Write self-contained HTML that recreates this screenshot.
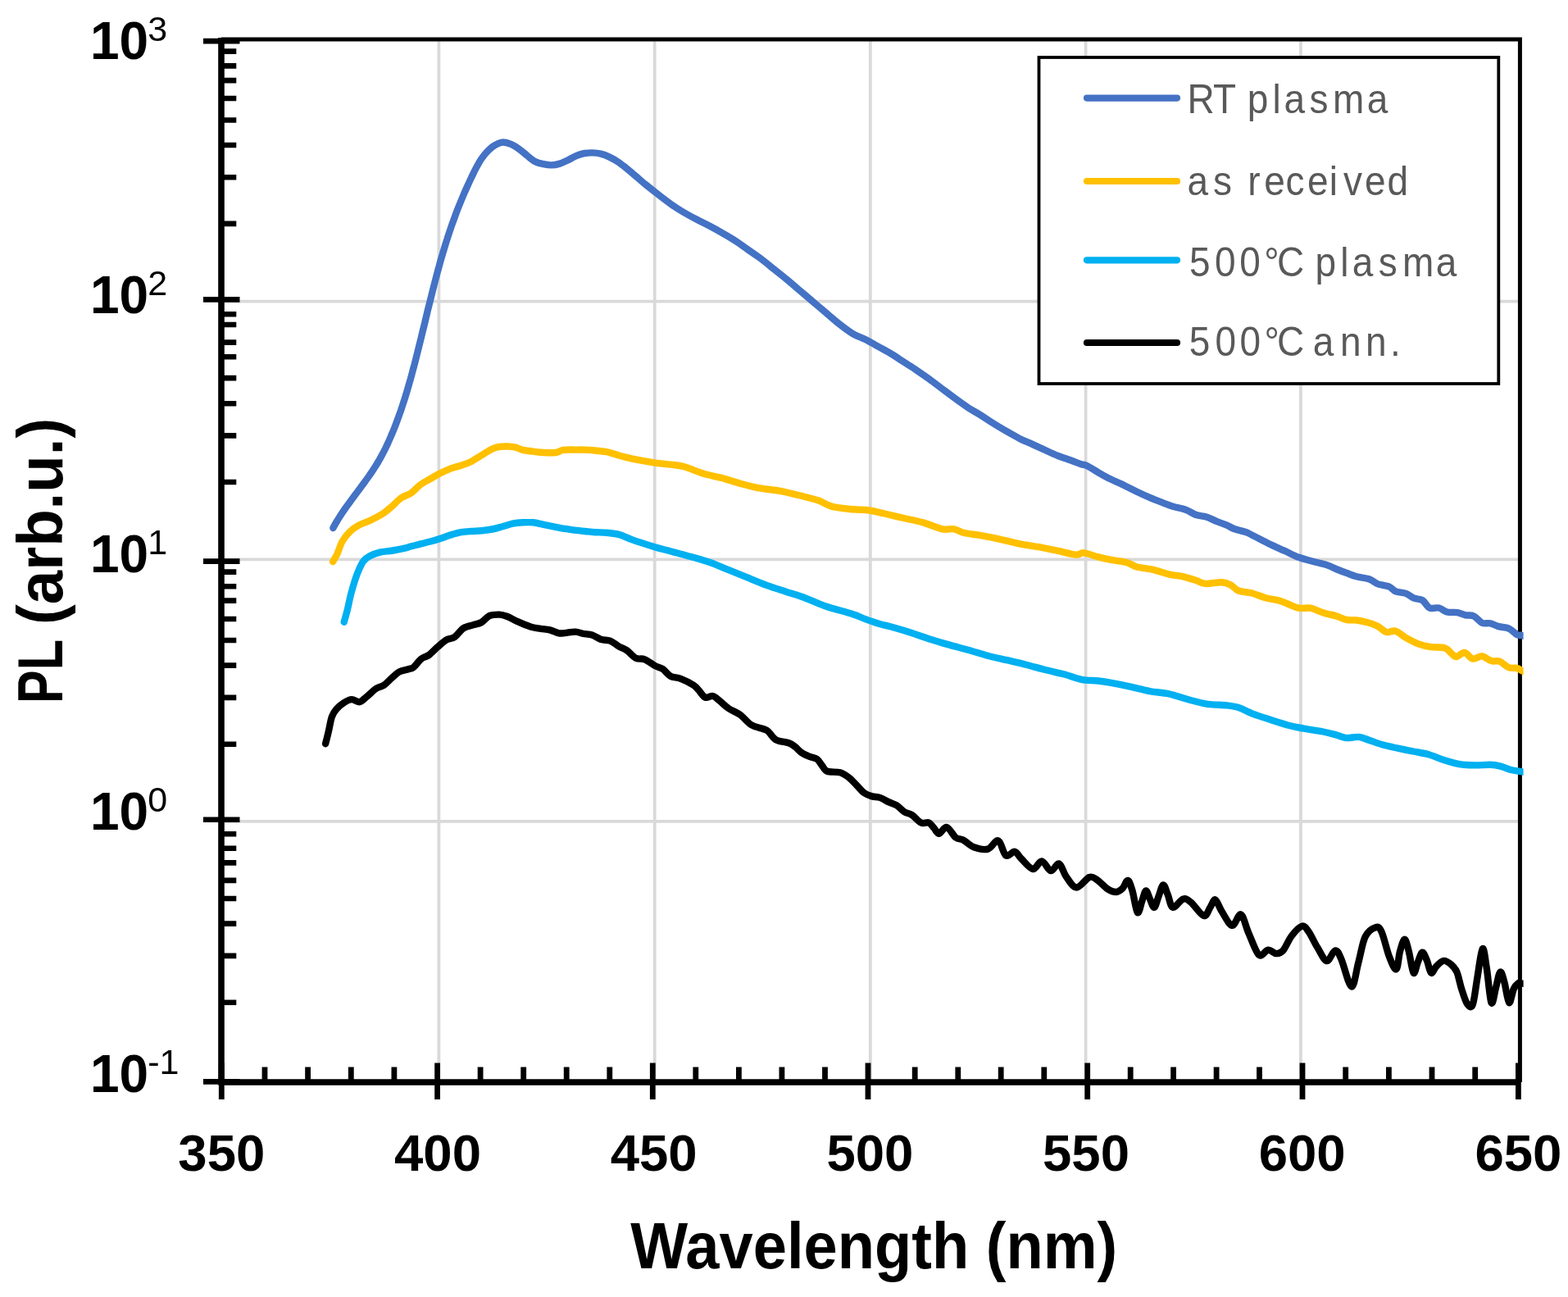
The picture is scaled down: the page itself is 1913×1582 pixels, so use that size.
<!DOCTYPE html>
<html><head><meta charset="utf-8"><title>PL spectra</title><style>html,body{margin:0;padding:0;background:#fff;overflow:hidden}svg{display:block}</style></head><body>
<svg xmlns="http://www.w3.org/2000/svg" width="1913" height="1582" viewBox="0 0 1913 1582">
<rect width="1913" height="1582" fill="#fff"/>
<path d="M270.0 367.6H1854.4 M270.0 682.3H1854.4 M270.0 1001.9H1854.4 M535.4 48.0V1320.0 M798.7 48.0V1320.0 M1061.8 48.0V1320.0 M1324.6 48.0V1320.0 M1586.9 48.0V1320.0" stroke="#d9d9d9" stroke-width="3.8" fill="none"/>
<path d="M270.0 48.0H1854.4V1320.0" stroke="#000" stroke-width="5" fill="none"/>
<path d="M270.0 46.0V1320.0M266.2 1320.0H1854.4" stroke="#000" stroke-width="7.6" fill="none"/>
<path d="M248 50.1H292.5 M248 365.4H292.5 M248 684.6H292.5 M248 999.8H292.5 M248 1319.4H292.5 M270.0 62.6H288.3 M270.0 80.4H288.3 M270.0 98.1H288.3 M270.0 120.0H288.3 M270.0 146.5H288.3 M270.0 177.0H288.3 M270.0 216.3H288.3 M270.0 272.9H288.3 M270.0 383.2H288.3 M270.0 396.0H288.3 M270.0 417.6H288.3 M270.0 435.2H288.3 M270.0 461.1H288.3 M270.0 492.3H288.3 M270.0 531.4H288.3 M270.0 588.0H288.3 M270.0 697.6H288.3 M270.0 715.2H288.3 M270.0 732.6H288.3 M270.0 755.0H288.3 M270.0 781.0H288.3 M270.0 811.6H288.3 M270.0 850.9H288.3 M270.0 907.7H288.3 M270.0 1017.3H288.3 M270.0 1034.7H288.3 M270.0 1052.4H288.3 M270.0 1073.9H288.3 M270.0 1096.0H288.3 M270.0 1126.6H288.3 M270.0 1165.9H288.3 M270.0 1222.7H288.3" stroke="#000" stroke-width="6.6" fill="none"/>
<path d="M270.3 1296.5V1341 M533.6 1296.5V1341 M796.3 1296.5V1341 M1059.0 1296.5V1341 M1326.7 1296.5V1341 M1589.0 1296.5V1341 M1852.4 1296.5V1341 M323.0 1301.5V1320.0 M375.6 1301.5V1320.0 M428.3 1301.5V1320.0 M480.9 1301.5V1320.0 M586.1 1301.5V1320.0 M638.7 1301.5V1320.0 M691.2 1301.5V1320.0 M743.8 1301.5V1320.0 M848.8 1301.5V1320.0 M901.4 1301.5V1320.0 M953.9 1301.5V1320.0 M1006.5 1301.5V1320.0 M1116.2 1301.5V1320.0 M1168.8 1301.5V1320.0 M1221.2 1301.5V1320.0 M1273.8 1301.5V1320.0 M1379.2 1301.5V1320.0 M1431.6 1301.5V1320.0 M1484.1 1301.5V1320.0 M1536.5 1301.5V1320.0 M1641.7 1301.5V1320.0 M1694.4 1301.5V1320.0 M1747.0 1301.5V1320.0 M1799.7 1301.5V1320.0" stroke="#000" stroke-width="6.8" fill="none"/>
<text x="270.3" y="1428.3" font-family="Liberation Sans, Arial, sans-serif" font-weight="bold" font-size="63.5" text-anchor="middle">350</text>
<text x="534.0" y="1428.3" font-family="Liberation Sans, Arial, sans-serif" font-weight="bold" font-size="63.5" text-anchor="middle">400</text>
<text x="797.7" y="1428.3" font-family="Liberation Sans, Arial, sans-serif" font-weight="bold" font-size="63.5" text-anchor="middle">450</text>
<text x="1061.4" y="1428.3" font-family="Liberation Sans, Arial, sans-serif" font-weight="bold" font-size="63.5" text-anchor="middle">500</text>
<text x="1325.0" y="1428.3" font-family="Liberation Sans, Arial, sans-serif" font-weight="bold" font-size="63.5" text-anchor="middle">550</text>
<text x="1588.7" y="1428.3" font-family="Liberation Sans, Arial, sans-serif" font-weight="bold" font-size="63.5" text-anchor="middle">600</text>
<text x="1852.4" y="1428.3" font-family="Liberation Sans, Arial, sans-serif" font-weight="bold" font-size="63.5" text-anchor="middle">650</text>
<text x="109.9" y="72.1" font-family="Liberation Sans, Arial, sans-serif" font-weight="bold" font-size="64">10</text>
<text x="180.3" y="50.2" font-family="Liberation Sans, Arial, sans-serif" font-size="43">3</text>
<text x="109.9" y="381.9" font-family="Liberation Sans, Arial, sans-serif" font-weight="bold" font-size="64">10</text>
<text x="180.3" y="360.0" font-family="Liberation Sans, Arial, sans-serif" font-size="43">2</text>
<text x="109.9" y="697.6" font-family="Liberation Sans, Arial, sans-serif" font-weight="bold" font-size="64">10</text>
<text x="180.3" y="675.7" font-family="Liberation Sans, Arial, sans-serif" font-size="43">1</text>
<text x="109.9" y="1011.8" font-family="Liberation Sans, Arial, sans-serif" font-weight="bold" font-size="64">10</text>
<text x="180.3" y="989.9" font-family="Liberation Sans, Arial, sans-serif" font-size="43">0</text>
<text x="109.9" y="1331.8" font-family="Liberation Sans, Arial, sans-serif" font-weight="bold" font-size="64">10</text>
<text x="180.3" y="1309.9" font-family="Liberation Sans, Arial, sans-serif" font-size="43">-1</text>
<text x="1066.2" y="1546.6" font-family="Liberation Sans, Arial, sans-serif" font-weight="bold" font-size="79" text-anchor="middle" textLength="594" lengthAdjust="spacingAndGlyphs">Wavelength (nm)</text>
<text transform="translate(76 858.0) rotate(-90)" font-family="Liberation Sans, Arial, sans-serif" font-weight="bold" font-size="78" textLength="78.0" lengthAdjust="spacingAndGlyphs">PL</text>
<text transform="translate(76 762.0) rotate(-90)" font-family="Liberation Sans, Arial, sans-serif" font-weight="bold" font-size="78" textLength="252.2" lengthAdjust="spacingAndGlyphs">(arb.u.)</text>
<defs><clipPath id="pc"><rect x="0" y="0" width="1858.6" height="1582"/></clipPath></defs>
<g clip-path="url(#pc)"><path d="M397.1 907.2C397.8 904.6 399.7 897.0 401.0 891.5C402.3 886.0 403.3 878.7 404.9 874.3C406.5 869.9 407.9 867.8 410.4 864.9C412.9 862.0 416.7 859.0 419.8 857.0C422.9 855.0 426.1 853.2 429.2 853.1C432.3 853.0 435.5 856.9 438.6 856.2C441.7 855.6 444.6 851.9 448.0 849.2C451.4 846.5 455.6 842.0 459.0 839.8C462.4 837.6 465.3 837.9 468.4 835.8C471.5 833.7 474.7 829.9 477.8 827.2C480.9 824.5 483.8 821.2 487.2 819.4C490.6 817.6 495.3 817.1 498.2 816.2C501.1 815.3 501.9 816.0 504.5 813.9C507.1 811.8 510.8 806.2 513.9 803.7C517.0 801.2 519.9 801.5 523.3 799.0C526.7 796.5 530.6 791.9 534.3 788.8C537.9 785.7 541.8 782.2 545.2 780.2C548.6 778.2 551.3 779.4 554.7 777.0C558.1 774.6 561.7 768.6 565.6 766.1C569.5 763.6 574.5 763.3 578.2 762.1C581.9 760.9 584.5 760.8 587.6 759.0C590.7 757.2 593.4 752.8 597.0 751.2C600.6 749.6 605.8 749.5 609.5 749.6C613.2 749.7 615.3 750.6 619.0 752.0C622.7 753.4 626.8 756.1 631.5 758.2C636.2 760.3 642.5 763.0 647.2 764.5C651.9 766.0 655.8 766.2 659.7 766.9C663.6 767.5 667.0 767.5 670.7 768.4C674.4 769.3 678.6 771.7 681.7 772.3C684.8 772.9 686.0 772.4 689.4 772.1C692.8 771.8 698.3 770.5 702.0 770.6C705.7 770.7 708.0 772.2 711.4 772.9C714.8 773.5 718.6 773.3 722.3 774.5C725.9 775.7 729.6 778.8 733.3 780.0C737.0 781.2 740.6 780.2 744.3 781.6C748.0 783.0 751.9 786.7 755.3 788.6C758.7 790.5 761.3 790.9 764.7 793.3C768.1 795.6 772.1 800.9 775.7 802.7C779.4 804.5 782.7 802.7 786.6 804.3C790.5 805.9 795.5 810.1 799.2 812.1C802.9 814.1 805.5 814.0 808.6 816.1C811.7 818.2 814.4 822.8 818.0 824.7C821.6 826.7 825.8 826.0 830.5 827.8C835.2 829.6 842.5 833.4 846.2 835.7C849.9 838.1 850.1 839.4 852.5 841.9C854.9 844.4 857.4 849.4 860.3 850.6C863.2 851.8 866.8 848.4 869.7 849.0C872.6 849.6 874.5 852.0 877.6 854.5C880.8 857.0 884.4 861.0 888.6 863.9C892.8 866.8 898.0 868.3 902.7 871.7C907.4 875.1 912.1 881.4 916.8 884.3C921.5 887.2 927.5 887.7 930.9 889.0C934.3 890.3 934.6 889.9 937.2 892.1C939.8 894.3 942.4 899.9 946.6 902.3C950.8 904.6 958.4 904.8 962.3 906.2C966.2 907.6 967.5 908.9 970.1 910.9C972.7 912.9 974.9 916.0 977.8 918.0C980.6 920.0 984.1 921.4 987.2 922.7C990.4 924.0 994.1 924.1 996.7 925.9C999.3 927.7 1000.8 931.2 1002.9 933.7C1005.0 936.2 1005.5 939.4 1009.2 940.8C1012.9 942.2 1020.5 941.0 1024.9 942.3C1029.4 943.6 1032.5 946.0 1035.9 948.6C1039.3 951.2 1042.2 954.9 1045.3 958.0C1048.4 961.1 1051.6 965.2 1054.7 967.4C1057.8 969.6 1061.0 970.5 1064.1 971.4C1067.2 972.3 1070.1 971.7 1073.5 972.9C1076.9 974.1 1081.1 976.8 1084.5 978.4C1087.9 980.0 1090.8 980.3 1093.9 982.3C1097.0 984.3 1100.2 988.2 1103.3 990.2C1106.4 992.2 1109.3 991.9 1112.7 994.1C1116.1 996.3 1120.3 1001.9 1123.7 1003.5C1127.1 1005.1 1130.5 1002.5 1133.1 1003.5C1135.7 1004.5 1137.3 1007.6 1139.4 1009.8C1141.5 1012.0 1143.0 1016.9 1145.6 1016.8C1148.2 1016.7 1151.6 1008.2 1155.0 1009.0C1158.4 1009.8 1162.6 1018.9 1166.0 1021.5C1169.4 1024.1 1171.7 1022.7 1175.4 1024.7C1179.1 1026.7 1183.0 1031.5 1188.0 1033.3C1193.0 1035.1 1200.2 1036.9 1205.2 1035.6C1210.2 1034.3 1214.1 1024.1 1217.8 1025.4C1221.5 1026.7 1223.8 1041.3 1227.2 1043.5C1230.6 1045.7 1235.0 1038.1 1238.1 1038.8C1241.2 1039.5 1242.3 1043.9 1246.0 1047.4C1249.7 1050.9 1255.9 1059.5 1260.1 1060.0C1264.3 1060.5 1267.3 1050.1 1271.0 1050.4C1274.7 1050.8 1278.5 1061.6 1282.0 1062.1C1285.5 1062.6 1289.0 1052.3 1292.1 1053.5C1295.2 1054.7 1297.3 1064.4 1300.8 1069.2C1304.3 1074.0 1308.6 1082.4 1313.3 1082.5C1318.0 1082.6 1324.8 1071.6 1329.0 1070.0C1333.2 1068.4 1334.7 1070.8 1338.4 1073.1C1342.1 1075.4 1347.1 1081.6 1351.0 1084.1C1354.9 1086.6 1358.8 1088.1 1361.9 1088.0C1365.0 1087.9 1367.5 1085.6 1369.8 1083.3C1372.1 1081.0 1374.0 1073.4 1376.0 1073.9C1378.0 1074.4 1379.5 1080.0 1381.5 1086.5C1383.5 1093.0 1385.8 1111.0 1387.8 1113.1C1389.8 1115.2 1391.6 1103.4 1393.3 1099.0C1395.0 1094.6 1396.4 1087.0 1398.0 1086.5C1399.6 1086.0 1401.0 1092.5 1402.7 1095.9C1404.4 1099.3 1406.4 1107.3 1408.2 1106.8C1410.0 1106.3 1411.9 1097.3 1413.7 1092.7C1415.5 1088.1 1417.4 1079.7 1419.2 1079.4C1421.0 1079.2 1422.8 1086.6 1424.7 1091.2C1426.7 1095.8 1427.8 1105.9 1430.9 1106.8C1434.0 1107.7 1439.8 1097.6 1443.5 1096.6C1447.2 1095.6 1448.7 1097.2 1452.9 1100.6C1457.1 1104.0 1464.7 1116.0 1468.6 1117.0C1472.5 1118.0 1474.1 1110.1 1476.4 1106.8C1478.8 1103.5 1480.4 1096.6 1482.7 1097.4C1485.0 1098.2 1487.1 1106.3 1490.5 1111.5C1493.9 1116.7 1499.2 1128.1 1503.1 1128.8C1507.0 1129.5 1510.6 1113.9 1514.0 1115.5C1517.4 1117.1 1519.7 1130.0 1523.4 1138.2C1527.1 1146.4 1532.1 1161.5 1536.0 1164.9C1539.9 1168.3 1543.5 1158.9 1547.0 1158.6C1550.5 1158.3 1553.9 1162.9 1556.9 1163.1C1560.0 1163.2 1562.2 1163.1 1565.3 1159.5C1568.4 1155.9 1571.9 1146.7 1575.7 1141.7C1579.5 1136.7 1584.8 1130.6 1588.3 1129.7C1591.8 1128.8 1593.5 1132.2 1596.6 1136.5C1599.7 1140.8 1603.4 1149.4 1607.1 1155.3C1610.8 1161.2 1614.9 1171.3 1618.6 1172.0C1622.2 1172.7 1626.0 1159.8 1629.0 1159.5C1632.0 1159.2 1633.1 1162.6 1636.4 1169.9C1639.7 1177.2 1645.4 1202.7 1648.9 1203.4C1652.4 1204.1 1654.5 1184.2 1657.3 1174.1C1660.1 1164.0 1662.1 1149.8 1665.6 1142.7C1669.1 1135.6 1674.9 1132.2 1678.2 1131.2C1681.5 1130.2 1682.7 1130.6 1685.5 1136.5C1688.3 1142.4 1691.9 1159.2 1694.9 1166.8C1697.9 1174.4 1701.2 1183.2 1703.4 1182.2C1705.6 1181.2 1706.3 1166.6 1708.0 1160.5C1709.7 1154.4 1711.9 1145.8 1713.7 1145.8C1715.5 1145.8 1717.0 1153.7 1718.8 1160.5C1720.6 1167.3 1722.7 1184.4 1724.5 1186.7C1726.3 1189.0 1727.8 1178.4 1729.6 1174.2C1731.4 1170.0 1733.4 1162.1 1735.3 1161.7C1737.2 1161.3 1739.2 1167.7 1741.0 1171.9C1742.8 1176.1 1744.2 1185.6 1746.1 1186.7C1748.0 1187.8 1749.8 1181.2 1752.3 1178.7C1754.8 1176.2 1758.4 1172.3 1761.4 1171.9C1764.4 1171.5 1767.8 1174.2 1770.5 1176.5C1773.2 1178.8 1775.3 1180.7 1777.4 1185.6C1779.5 1190.5 1781.0 1199.6 1783.1 1206.1C1785.2 1212.5 1787.6 1221.1 1789.9 1224.3C1792.2 1227.5 1794.6 1230.7 1796.7 1225.4C1798.8 1220.1 1800.4 1203.8 1802.4 1192.4C1804.4 1181.0 1806.8 1159.0 1808.7 1157.1C1810.6 1155.2 1812.0 1170.0 1813.8 1181.0C1815.6 1192.0 1817.6 1219.3 1819.5 1223.1C1821.4 1226.9 1823.4 1210.0 1825.2 1203.8C1827.0 1197.5 1828.6 1186.5 1830.3 1185.6C1832.0 1184.6 1833.6 1191.8 1835.4 1198.1C1837.2 1204.3 1839.2 1221.8 1841.1 1223.1C1843.0 1224.4 1844.9 1210.1 1846.8 1206.1C1848.7 1202.1 1851.0 1200.3 1852.5 1199.2C1854.0 1198.1 1854.8 1199.4 1856.0 1199.5C1857.2 1199.6 1859.3 1199.8 1860.0 1199.8" fill="none" stroke="#000" stroke-width="8.4" stroke-linejoin="round" stroke-linecap="round"/>
<path d="M419.7 758.8C420.4 756.3 422.5 749.3 423.9 743.6C425.3 737.9 426.5 730.9 428.1 724.8C429.7 718.7 431.6 712.2 433.3 707.0C435.0 701.8 436.8 697.3 438.5 693.5C440.2 689.7 441.7 686.5 443.8 684.0C445.9 681.5 447.8 680.0 451.1 678.3C454.4 676.6 458.9 674.7 463.6 673.6C468.3 672.5 474.1 672.4 479.3 671.5C484.5 670.6 491.6 669.2 495.0 668.4C498.4 667.6 497.1 667.6 500.0 666.8C502.9 666.0 508.3 664.6 512.5 663.6C516.7 662.6 520.9 661.6 525.1 660.5C529.3 659.4 533.4 658.1 537.6 656.7C541.8 655.4 546.0 653.6 550.2 652.4C554.4 651.1 558.5 649.9 562.7 649.2C566.9 648.5 571.1 648.3 575.3 648.0C579.5 647.7 583.6 647.7 587.8 647.3C592.0 646.9 596.2 646.3 600.4 645.5C604.6 644.7 608.7 643.4 612.9 642.3C617.1 641.1 621.3 639.4 625.5 638.6C629.7 637.8 633.8 637.5 638.0 637.3C642.2 637.1 646.3 636.9 650.5 637.3C654.7 637.7 658.9 639.0 663.1 639.8C667.3 640.6 671.4 641.5 675.6 642.3C679.8 643.1 684.0 644.1 688.2 644.8C692.4 645.5 696.5 646.2 700.7 646.7C704.9 647.2 709.1 647.6 713.3 648.0C717.5 648.4 721.3 648.9 725.8 649.2C730.2 649.5 735.0 649.3 740.0 649.8C745.0 650.3 750.5 650.7 755.7 652.1C760.9 653.5 764.4 655.9 771.4 658.4C778.4 660.9 790.2 664.6 798.0 667.0C805.8 669.4 811.1 670.5 818.4 672.5C825.7 674.5 834.0 676.6 841.9 678.8C849.8 681.0 857.6 683.1 865.5 685.8C873.4 688.5 881.2 692.1 889.0 695.2C896.8 698.4 904.7 701.6 912.5 704.7C920.3 707.9 928.2 711.2 936.0 714.1C943.8 717.0 951.6 719.3 959.5 721.9C967.4 724.5 975.2 726.8 983.1 729.7C991.0 732.6 997.1 736.0 1006.6 739.2C1016.1 742.4 1031.8 746.4 1040.0 749.0C1048.2 751.6 1050.5 753.2 1055.7 755.1C1060.9 757.0 1066.2 758.9 1071.4 760.5C1076.6 762.1 1080.5 762.7 1087.0 764.5C1093.5 766.3 1102.8 769.0 1110.6 771.5C1118.4 774.0 1126.3 776.9 1134.1 779.4C1141.9 781.9 1149.8 784.2 1157.6 786.4C1165.4 788.6 1173.2 790.5 1181.1 792.7C1188.9 794.9 1196.8 797.6 1204.7 799.7C1212.6 801.8 1220.4 803.4 1228.2 805.2C1236.0 807.0 1243.9 808.7 1251.7 810.7C1259.5 812.7 1267.4 815.0 1275.2 817.0C1283.0 819.0 1291.4 820.5 1298.7 822.5C1306.0 824.5 1312.2 827.5 1319.1 828.8C1326.0 830.1 1333.9 829.8 1340.0 830.5C1346.1 831.2 1349.2 831.7 1355.7 832.9C1362.2 834.1 1371.4 835.9 1379.2 837.6C1387.0 839.3 1394.9 841.7 1402.7 843.1C1410.5 844.5 1418.4 844.6 1426.2 846.3C1434.0 848.0 1442.0 851.2 1449.8 853.3C1457.6 855.4 1465.5 857.6 1473.3 858.8C1481.1 860.0 1490.3 859.6 1496.8 860.4C1503.3 861.2 1507.3 861.8 1512.5 863.5C1517.7 865.2 1521.7 868.1 1528.2 870.6C1534.7 873.1 1543.9 875.9 1551.7 878.4C1559.5 880.9 1568.7 883.8 1575.2 885.5C1581.7 887.2 1584.4 887.4 1590.9 888.6C1597.4 889.8 1607.9 891.2 1614.4 892.5C1620.9 893.8 1625.3 895.1 1630.0 896.4C1634.7 897.7 1637.9 899.7 1642.5 900.1C1647.1 900.5 1653.0 898.5 1657.6 898.9C1662.2 899.3 1665.3 901.1 1670.1 902.7C1674.9 904.3 1680.6 906.6 1686.5 908.3C1692.4 910.0 1699.0 911.3 1705.3 912.7C1711.6 914.1 1717.8 915.2 1724.1 916.5C1730.4 917.8 1736.6 918.4 1742.9 920.2C1749.2 922.0 1755.4 925.1 1761.7 927.1C1768.0 929.1 1774.2 931.1 1780.5 932.1C1786.8 933.1 1793.1 933.3 1799.4 933.4C1805.7 933.5 1813.0 932.6 1818.2 932.8C1823.4 933.0 1826.5 933.6 1830.7 934.6C1834.9 935.6 1839.1 937.9 1843.3 939.0C1847.5 940.1 1853.2 940.7 1856.0 941.2C1858.8 941.7 1859.3 941.7 1860.0 941.8" fill="none" stroke="#00b0f0" stroke-width="8.4" stroke-linejoin="round" stroke-linecap="round"/>
<path d="M406.1 685.1C407.0 683.5 409.4 679.9 411.4 675.7C413.3 671.5 415.2 664.5 417.8 660.0C420.4 655.5 423.5 651.7 426.9 648.4C430.3 645.1 434.0 642.7 438.2 640.4C442.4 638.1 447.1 637.0 451.9 634.7C456.6 632.4 462.5 629.4 466.7 626.8C470.9 624.1 473.1 622.0 476.9 618.8C480.7 615.6 485.3 610.3 489.4 607.4C493.5 604.5 497.6 604.1 501.5 601.5C505.4 598.9 508.6 594.4 512.5 591.5C516.4 588.6 520.9 586.4 525.1 584.0C529.3 581.6 533.4 579.2 537.6 577.1C541.8 575.0 546.0 573.0 550.2 571.4C554.4 569.8 558.5 569.2 562.7 567.7C566.9 566.2 571.1 564.8 575.3 562.7C579.5 560.6 583.8 557.5 587.8 555.1C591.8 552.7 595.8 549.9 599.1 548.2C602.5 546.5 604.5 545.7 607.9 545.1C611.2 544.5 615.7 544.4 619.2 544.5C622.8 544.6 626.1 545.0 629.2 545.7C632.3 546.4 634.5 548.1 638.0 548.9C641.5 549.7 646.3 550.2 650.5 550.7C654.7 551.2 658.5 551.8 663.1 552.0C667.7 552.2 674.1 552.5 678.1 552.0C682.1 551.5 683.1 549.5 686.9 548.9C690.7 548.3 696.3 548.6 700.7 548.6C705.1 548.6 709.1 548.5 713.3 548.6C717.5 548.8 721.3 549.1 725.8 549.5C730.2 549.9 735.0 550.2 740.0 551.2C745.0 552.2 750.5 554.3 755.7 555.7C760.9 557.1 764.4 558.2 771.4 559.6C778.4 561.0 790.2 563.1 798.0 564.3C805.8 565.5 812.4 565.9 818.4 566.7C824.4 567.5 827.6 567.2 834.1 569.0C840.6 570.8 849.8 575.2 857.6 577.6C865.4 580.0 873.2 581.0 881.1 583.1C889.0 585.2 896.9 588.1 904.7 590.2C912.6 592.3 920.4 594.3 928.2 595.7C936.0 597.1 943.9 597.4 951.7 598.8C959.5 600.2 967.4 602.3 975.2 604.3C983.0 606.3 992.2 608.4 998.7 610.6C1005.2 612.8 1007.5 615.8 1014.4 617.6C1021.3 619.4 1032.3 620.4 1040.0 621.2C1047.7 622.0 1053.9 621.6 1060.4 622.5C1066.9 623.4 1072.2 624.9 1079.2 626.5C1086.2 628.1 1094.9 630.2 1102.7 632.0C1110.5 633.8 1118.4 635.2 1126.2 637.4C1134.0 639.6 1143.5 644.0 1149.8 645.3C1156.1 646.6 1159.5 644.5 1163.9 645.3C1168.3 646.1 1170.9 648.7 1176.4 650.0C1181.9 651.3 1189.5 651.8 1196.8 653.1C1204.1 654.4 1212.4 656.1 1220.3 657.8C1228.2 659.5 1236.1 661.7 1243.9 663.3C1251.8 664.9 1259.6 665.8 1267.4 667.2C1275.2 668.6 1283.3 670.3 1290.9 671.9C1298.5 673.5 1307.7 676.2 1312.9 676.6C1318.1 677.0 1317.8 673.8 1322.3 674.3C1326.8 674.8 1334.4 678.0 1340.0 679.4C1345.6 680.8 1350.0 681.8 1355.7 682.9C1361.5 684.0 1369.3 684.6 1374.5 686.0C1379.7 687.4 1381.8 690.0 1387.0 691.5C1392.2 693.0 1399.1 693.1 1405.9 694.7C1412.7 696.3 1421.5 699.5 1427.8 700.9C1434.1 702.3 1438.3 702.1 1443.5 703.3C1448.7 704.5 1454.8 706.6 1459.2 708.0C1463.7 709.4 1465.0 711.5 1470.2 711.9C1475.4 712.3 1485.3 710.0 1490.5 710.3C1495.7 710.6 1498.1 711.8 1501.5 713.5C1504.9 715.2 1506.5 718.8 1510.9 720.5C1515.4 722.2 1522.7 722.2 1528.2 723.7C1533.7 725.2 1538.7 727.8 1543.9 729.2C1549.1 730.6 1554.8 731.0 1559.5 732.3C1564.2 733.6 1567.9 735.4 1572.1 737.0C1576.3 738.6 1580.2 740.9 1584.6 741.7C1589.0 742.5 1594.5 741.1 1598.7 741.7C1602.9 742.4 1606.3 744.4 1609.7 745.6C1613.1 746.8 1615.7 747.9 1619.1 748.8C1622.5 749.7 1626.1 750.0 1630.0 751.2C1633.9 752.4 1638.3 755.0 1642.5 755.9C1646.7 756.8 1650.9 756.0 1655.1 756.5C1659.3 757.0 1663.4 757.9 1667.6 759.0C1671.8 760.1 1676.2 761.4 1680.2 763.4C1684.2 765.4 1687.7 770.0 1691.5 771.0C1695.3 772.0 1698.8 768.6 1702.8 769.7C1706.8 770.9 1710.7 775.3 1715.3 777.9C1719.9 780.5 1725.4 783.5 1730.4 785.4C1735.4 787.3 1740.0 788.3 1745.4 789.1C1750.8 789.9 1758.8 789.1 1763.0 790.4C1767.2 791.7 1768.2 794.9 1770.5 796.7C1772.8 798.5 1774.1 801.2 1776.8 801.1C1779.5 801.0 1783.4 795.6 1786.8 796.0C1790.2 796.4 1793.4 802.9 1796.9 803.6C1800.5 804.3 1804.3 800.0 1808.1 800.4C1811.8 800.8 1815.8 805.0 1819.4 806.1C1823.0 807.2 1825.9 805.4 1829.5 806.7C1833.1 808.1 1837.2 812.8 1840.8 814.2C1844.3 815.6 1848.3 814.3 1850.8 814.9C1853.3 815.5 1854.5 817.0 1856.0 817.8C1857.5 818.6 1859.3 819.2 1860.0 819.5" fill="none" stroke="#ffc000" stroke-width="8.4" stroke-linejoin="round" stroke-linecap="round"/>
<path d="M406.4 644.0C407.1 642.7 409.3 638.7 410.9 636.0C412.5 633.3 414.2 630.7 415.9 628.0C417.6 625.3 419.4 622.7 421.3 620.0C423.2 617.3 425.2 614.7 427.1 612.0C429.1 609.3 431.0 606.7 433.0 604.0C435.0 601.3 437.0 598.7 439.0 596.0C441.0 593.3 443.0 590.7 444.9 588.0C446.8 585.3 448.8 582.7 450.6 580.0C452.5 577.3 454.3 574.7 456.0 572.0C457.7 569.3 459.4 566.7 461.0 564.0C462.6 561.3 464.1 558.7 465.5 556.0C466.9 553.3 468.4 550.7 469.7 548.0C471.0 545.3 472.3 542.7 473.5 540.0C474.7 537.3 475.9 534.7 477.0 532.0C478.1 529.3 479.3 526.7 480.4 524.0C481.5 521.3 482.5 518.7 483.5 516.0C484.5 513.3 485.4 510.7 486.4 508.0C487.4 505.3 488.4 502.7 489.3 500.0C490.2 497.3 491.0 494.7 491.9 492.0C492.8 489.3 493.7 486.7 494.5 484.0C495.3 481.3 496.1 478.7 496.9 476.0C497.7 473.3 498.4 470.7 499.2 468.0C500.0 465.3 500.8 462.7 501.5 460.0C502.2 457.3 502.9 454.7 503.6 452.0C504.3 449.3 505.1 446.7 505.8 444.0C506.5 441.3 507.1 438.7 507.8 436.0C508.5 433.3 509.1 430.7 509.8 428.0C510.5 425.3 511.1 422.7 511.8 420.0C512.5 417.3 513.1 414.7 513.8 412.0C514.4 409.3 515.1 406.7 515.7 404.0C516.4 401.3 517.1 398.7 517.7 396.0C518.4 393.3 519.0 390.7 519.6 388.0C520.2 385.3 520.9 382.7 521.5 380.0C522.1 377.3 522.8 374.7 523.5 372.0C524.2 369.3 524.8 366.7 525.5 364.0C526.2 361.3 526.8 358.7 527.5 356.0C528.2 353.3 528.8 350.7 529.5 348.0C530.2 345.3 530.9 342.7 531.6 340.0C532.3 337.3 533.0 334.7 533.7 332.0C534.4 329.3 535.2 326.7 535.9 324.0C536.6 321.3 537.3 318.7 538.1 316.0C538.9 313.3 539.7 310.7 540.5 308.0C541.3 305.3 542.1 302.7 542.9 300.0C543.7 297.3 544.5 294.7 545.4 292.0C546.2 289.3 547.1 286.7 548.0 284.0C548.9 281.3 549.8 278.7 550.7 276.0C551.6 273.3 552.6 270.7 553.6 268.0C554.6 265.3 555.5 262.7 556.5 260.0C557.5 257.3 558.5 254.7 559.6 252.0C560.7 249.3 561.8 246.7 562.9 244.0C564.0 241.3 565.1 238.7 566.2 236.0C567.4 233.3 568.6 230.7 569.8 228.0C571.0 225.3 572.2 222.7 573.5 220.0C574.8 217.3 575.9 214.8 577.3 212.0C578.6 209.2 580.1 206.2 581.6 203.5C583.1 200.8 584.4 198.3 586.0 195.8C587.6 193.3 589.4 190.8 591.2 188.6C593.0 186.3 594.9 184.2 597.0 182.3C599.1 180.4 601.4 178.4 604.0 177.0C606.6 175.6 609.6 173.8 612.7 173.6C615.8 173.4 619.4 174.4 622.7 175.7C626.1 177.0 629.4 179.1 632.8 181.4C636.1 183.7 639.5 186.9 642.8 189.5C646.1 192.1 649.4 195.2 652.8 197.0C656.1 198.8 659.5 199.5 662.9 200.2C666.2 200.9 669.6 201.5 672.9 201.4C676.2 201.3 679.5 200.6 682.9 199.6C686.2 198.6 689.6 196.8 693.0 195.2C696.4 193.6 699.6 191.5 703.0 190.1C706.4 188.7 709.8 187.6 713.1 187.0C716.5 186.4 719.8 186.3 723.1 186.4C726.4 186.5 729.8 186.8 733.1 187.6C736.5 188.4 739.4 189.6 743.2 191.4C747.0 193.2 751.0 195.3 755.7 198.6C760.4 201.9 766.2 206.9 771.4 211.2C776.6 215.5 781.8 220.2 787.0 224.5C792.2 228.8 797.5 232.9 802.7 237.0C807.9 241.1 813.2 245.1 818.4 248.8C823.6 252.5 828.9 255.9 834.1 259.0C839.3 262.1 844.6 264.9 849.8 267.6C855.0 270.4 860.3 272.8 865.5 275.5C870.7 278.2 875.9 281.1 881.1 284.1C886.3 287.1 891.6 290.1 896.8 293.5C902.0 296.9 907.3 300.8 912.5 304.5C917.7 308.2 923.0 311.6 928.2 315.5C933.4 319.4 938.7 323.8 943.9 328.0C949.1 332.2 954.3 336.2 959.5 340.5C964.7 344.8 970.0 349.4 975.2 353.9C980.4 358.3 985.7 362.8 990.9 367.2C996.1 371.6 1001.4 376.1 1006.6 380.5C1011.8 384.9 1016.7 389.5 1022.3 393.9C1027.9 398.3 1034.4 403.4 1040.0 406.8C1045.6 410.2 1050.5 411.5 1055.7 414.1C1060.9 416.8 1066.2 419.8 1071.4 422.7C1076.6 425.6 1081.8 428.2 1087.0 431.4C1092.2 434.5 1097.5 438.2 1102.7 441.6C1107.9 445.0 1113.2 448.2 1118.4 451.7C1123.6 455.2 1128.9 458.9 1134.1 462.7C1139.3 466.5 1144.6 470.6 1149.8 474.5C1155.0 478.4 1160.3 482.4 1165.5 486.2C1170.7 490.0 1175.9 493.8 1181.1 497.2C1186.3 500.6 1191.6 503.3 1196.8 506.6C1202.0 509.9 1207.3 513.5 1212.5 516.8C1217.7 520.1 1223.0 523.2 1228.2 526.2C1233.4 529.2 1238.7 532.3 1243.9 534.9C1249.1 537.5 1254.3 539.5 1259.5 541.9C1264.7 544.2 1270.0 546.6 1275.2 549.0C1280.4 551.4 1285.7 553.9 1290.9 556.0C1296.1 558.1 1301.9 559.8 1306.6 561.5C1311.3 563.2 1316.0 565.2 1319.1 566.2C1322.2 567.2 1321.9 566.1 1325.4 567.8C1328.9 569.5 1335.5 573.7 1340.0 576.3C1344.5 578.9 1347.3 580.7 1352.5 583.3C1357.7 585.9 1365.7 589.2 1371.4 592.0C1377.2 594.8 1381.8 597.3 1387.0 599.8C1392.2 602.3 1397.5 604.7 1402.7 606.9C1407.9 609.1 1413.7 611.3 1418.4 613.1C1423.1 614.9 1426.3 616.4 1431.0 617.8C1435.7 619.2 1441.9 620.0 1446.6 621.7C1451.3 623.4 1455.0 626.5 1459.2 628.0C1463.4 629.5 1467.5 629.1 1471.7 630.4C1475.9 631.7 1480.1 634.2 1484.3 635.9C1488.5 637.6 1493.1 639.0 1496.8 640.6C1500.5 642.2 1502.3 643.9 1506.2 645.3C1510.1 646.7 1515.3 647.2 1520.3 649.2C1525.3 651.2 1530.8 654.4 1536.0 657.0C1541.2 659.6 1546.5 662.4 1551.7 664.9C1556.9 667.4 1561.9 669.4 1567.4 671.9C1572.9 674.4 1578.6 677.6 1584.6 679.8C1590.6 682.0 1597.7 683.7 1603.4 685.3C1609.2 686.9 1614.7 687.8 1619.1 689.2C1623.5 690.7 1626.1 692.4 1630.0 694.0C1633.9 695.6 1638.3 697.3 1642.5 698.8C1646.7 700.3 1650.5 702.0 1655.1 703.2C1659.7 704.5 1665.9 704.8 1670.1 706.3C1674.3 707.8 1677.3 710.7 1680.2 712.0C1683.1 713.3 1685.2 713.3 1687.7 713.9C1690.2 714.5 1692.7 714.5 1695.2 715.8C1697.7 717.0 1699.5 720.0 1702.8 721.4C1706.1 722.8 1711.5 722.5 1715.3 723.9C1719.0 725.3 1721.9 728.2 1725.3 729.6C1728.7 731.0 1732.2 730.1 1735.4 732.1C1738.6 734.1 1740.9 739.9 1744.2 741.5C1747.5 743.1 1752.0 740.7 1755.5 741.5C1759.0 742.3 1761.8 745.6 1765.5 746.5C1769.2 747.4 1774.2 746.5 1778.0 747.1C1781.8 747.7 1784.8 749.6 1788.1 750.3C1791.4 751.0 1794.8 749.9 1798.1 751.5C1801.4 753.1 1804.8 758.2 1808.1 759.7C1811.4 761.2 1814.8 759.6 1818.2 760.3C1821.6 761.0 1824.4 763.0 1828.2 764.1C1832.0 765.2 1837.0 764.9 1840.8 766.6C1844.6 768.3 1848.3 772.7 1850.8 774.1C1853.3 775.5 1854.5 774.5 1856.0 774.8C1857.5 775.1 1859.3 775.8 1860.0 776.0" fill="none" stroke="#4472c4" stroke-width="8.4" stroke-linejoin="round" stroke-linecap="round"/></g>
<rect x="1267.5" y="70" width="560.8" height="398" fill="#fff" stroke="#000" stroke-width="3.8"/>
<path d="M1326 119.6H1436" stroke="#4472c4" stroke-width="8.2" stroke-linecap="round"/>
<text transform="scale(0.92 1)" x="1574.5 1608.6 1639.2 1654.1 1687.4 1702.6 1736.5 1767.4 1812.7" y="138.3" font-family="Liberation Sans, Arial, sans-serif" font-size="50" fill="#595959">RT plasma</text>
<path d="M1326 221H1436" stroke="#ffc000" stroke-width="8.2" stroke-linecap="round"/>
<text transform="scale(0.92 1)" x="1574.5 1608.7 1633.7 1654.6 1676.4 1705.0 1733.7 1762.8 1781.4 1809.9 1839.6" y="237.8" font-family="Liberation Sans, Arial, sans-serif" font-size="50" fill="#595959">as received</text>
<path d="M1326 317.3H1436" stroke="#00b0f0" stroke-width="8.2" stroke-linecap="round"/>
<text transform="scale(0.92 1)" x="1577.1 1610.9 1643.7 1676.5 1693.4 1729.5 1744.1 1777.5 1793.3 1828.1 1859.9 1904.2" y="337" font-family="Liberation Sans, Arial, sans-serif" font-size="50" fill="#595959">500°C plasma</text>
<path d="M1326 418H1436" stroke="#000" stroke-width="8.2" stroke-linecap="round"/>
<text transform="scale(0.92 1)" x="1577.0 1611.3 1644.0 1676.6 1693.5 1729.6 1741.1 1777.1 1810.9 1843.4" y="434.3" font-family="Liberation Sans, Arial, sans-serif" font-size="50" fill="#595959">500°C ann.</text>
</svg>
</body></html>
